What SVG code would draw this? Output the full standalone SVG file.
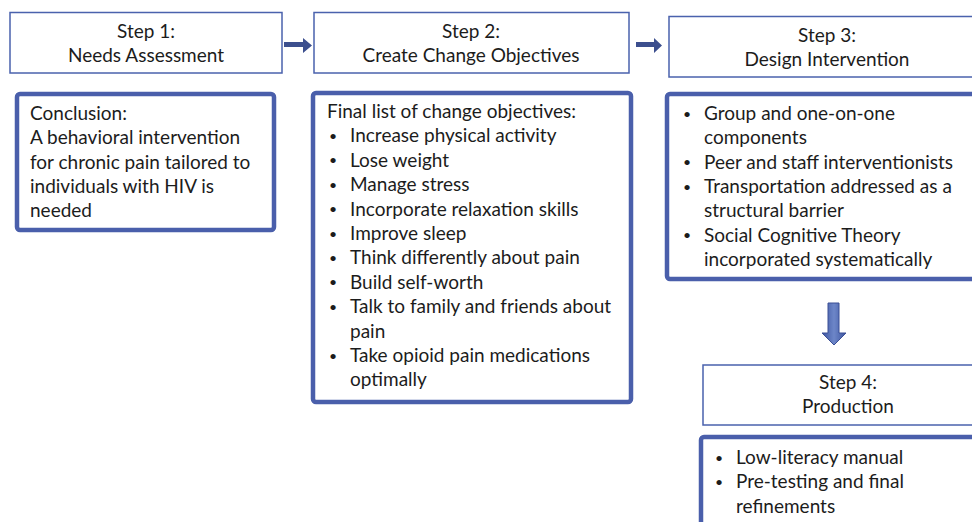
<svg xmlns="http://www.w3.org/2000/svg" width="972" height="522" viewBox="0 0 972 522">
<defs>
<style>
text{font-family:Lato,"Open Sans","DejaVu Sans",sans-serif;font-size:19px;fill:#1c1c1c}
text.b{font-size:14px}
.hd{fill:#fff;stroke:#4a62ad;stroke-width:1.5}
.bx{fill:#fff;stroke:#4a5fab;stroke-width:4.5}
.c{text-anchor:middle}
.ar{fill:#3c4f8e}
</style>
<linearGradient id="dg" x1="0" y1="0" x2="1" y2="0">
<stop offset="0" stop-color="#3d55a0"/>
<stop offset="0.5" stop-color="#6d86c8"/>
<stop offset="1" stop-color="#3d55a0"/>
</linearGradient>
</defs>
<rect width="972" height="522" fill="#fff"/>
<g id="connectors">
<polygon class="ar" points="284,42 303,42 303,38 312,45.5 303,53 303,47 284,47"/>
<polygon class="ar" points="636,42 654,42 654,38 662,45.5 654,53 654,47 636,47"/>
<polygon fill="url(#dg)" stroke="#3b4f95" stroke-width="1" points="828,303 839,303 839,333 846,333 834,345 822,333 828,333"/>
</g>
<g id="step1">
<rect class="hd" x="10" y="12.5" width="272" height="60.5"/>
<text class="c" x="146" y="38">Step 1:</text>
<text class="c" x="146" y="62">Needs Assessment</text>
</g>
<g id="step1-content">
<rect class="bx" x="17" y="94" width="257" height="136" rx="3"/>
<text x="30" y="120">Conclusion:</text>
<text x="30" y="144">A behavioral intervention</text>
<text x="30" y="168.5">for chronic pain tailored to</text>
<text x="30" y="193">individuals with HIV is</text>
<text x="30" y="217">needed</text>
</g>
<g id="step2">
<rect class="hd" x="314" y="12.5" width="315" height="60.5"/>
<text class="c" x="471" y="38">Step 2:</text>
<text class="c" x="471" y="62">Create Change Objectives</text>
</g>
<g id="step2-content">
<rect class="bx" x="313" y="93" width="318" height="309" rx="3"/>
<text x="327" y="118">Final list of change objectives:</text>
<text class="b" x="329" y="141">•</text><text x="350" y="142.4">Increase physical activity</text>
<text class="b" x="329" y="165.4">•</text><text x="350" y="166.8">Lose weight</text>
<text class="b" x="329" y="189.8">•</text><text x="350" y="191.2">Manage stress</text>
<text class="b" x="329" y="214.2">•</text><text x="350" y="215.6">Incorporate relaxation skills</text>
<text class="b" x="329" y="238.6">•</text><text x="350" y="240">Improve  sleep</text>
<text class="b" x="329" y="263">•</text><text x="350" y="264.4">Think differently about pain</text>
<text class="b" x="329" y="287.4">•</text><text x="350" y="288.8">Build self-worth</text>
<text class="b" x="329" y="311.8">•</text><text x="350" y="313.2">Talk to family and friends about</text>
<text x="350" y="337.6">pain</text>
<text class="b" x="329" y="360.6">•</text><text x="350" y="362">Take opioid pain medications</text>
<text x="350" y="386.4">optimally</text>
</g>
<g id="step3">
<rect class="hd" x="669" y="16.5" width="320" height="60.5"/>
<text class="c" x="827" y="42">Step 3:</text>
<text class="c" x="827" y="65.5">Design Intervention</text>
</g>
<g id="step3-content">
<rect class="bx" x="667" y="94" width="320" height="185" rx="3"/>
<text class="b" x="683" y="118.6">•</text><text x="704" y="120">Group and one-on-one</text>
<text x="704" y="144.3">components</text>
<text class="b" x="683" y="167.2">•</text><text x="704" y="168.6">Peer and staff interventionists</text>
<text class="b" x="683" y="191.5">•</text><text x="704" y="192.9">Transportation  addressed as a</text>
<text x="704" y="217.2">structural barrier</text>
<text class="b" x="683" y="240.1">•</text><text x="704" y="241.5">Social Cognitive Theory</text>
<text x="704" y="265.8">incorporated  systematically</text>
</g>
<g id="step4">
<rect class="hd" x="703" y="365" width="285" height="60"/>
<text class="c" x="848" y="389">Step 4:</text>
<text class="c" x="848" y="413">Production</text>
</g>
<g id="step4-content">
<rect class="bx" x="701" y="437" width="290" height="100" rx="3"/>
<text class="b" x="715" y="462.6">•</text><text x="736" y="464">Low-literacy manual</text>
<text class="b" x="715" y="486.9">•</text><text x="736" y="488.3">Pre-testing and final</text>
<text x="736" y="512.6">refinements</text>
</g>
</svg>
